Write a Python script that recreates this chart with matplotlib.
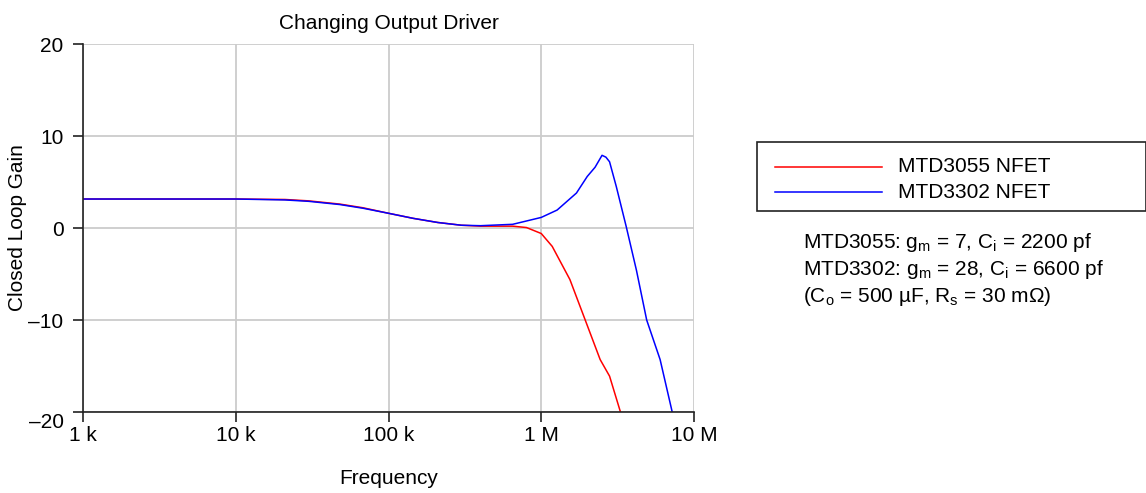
import matplotlib
matplotlib.use("Agg")
import matplotlib.pyplot as plt
from matplotlib.patches import Rectangle
from matplotlib.lines import Line2D
from matplotlib.transforms import ScaledTranslation

plt.rcParams["font.family"] = ["Liberation Sans", "DejaVu Sans"]
plt.rcParams["mathtext.fontset"] = "custom"
plt.rcParams["mathtext.rm"] = "Liberation Sans"
plt.rcParams["mathtext.default"] = "regular"

# Closed loop gain (dB) vs frequency (Hz)
freq_3055 = [1e3, 1e4, 2.1e4, 3.0e4, 4.8e4, 6.8e4, 1.0e5, 1.45e5, 2.1e5, 3.0e5,
             4.0e5, 6.5e5, 8.0e5, 1.0e6, 1.18e6, 1.54e6, 1.94e6, 2.43e6, 2.8e6, 3.3e6]
gain_3055 = [3.15, 3.15, 3.1, 2.95, 2.6, 2.2, 1.6, 1.05, 0.6, 0.3,
             0.2, 0.2, 0.05, -0.6, -2.0, -5.6, -10.0, -14.3, -16.1, -20.0]

freq_3302 = [1e3, 1e4, 2.1e4, 3.0e4, 4.8e4, 6.8e4, 1.0e5, 1.45e5, 2.1e5, 3.0e5,
             4.0e5, 6.5e5, 1.0e6, 1.27e6, 1.7e6, 2.0e6, 2.25e6, 2.5e6, 2.65e6, 2.8e6,
             3.1e6, 3.6e6, 4.2e6, 4.9e6, 6.0e6, 7.2e6]
gain_3302 = [3.15, 3.15, 3.05, 2.9, 2.55, 2.15, 1.6, 1.05, 0.6, 0.3,
             0.25, 0.4, 1.15, 1.95, 3.8, 5.6, 6.6, 7.9, 7.7, 7.2,
             4.5, 0.15, -4.6, -10.0, -14.3, -20.0]

series_names = ["MTD3055 NFET", "MTD3302 NFET"]
series_colors = ["#ff0000", "#0000ff"]
x_ticks = [1e3, 1e4, 1e5, 1e6, 1e7]
x_labels = ["1 k", "10 k", "100 k", "1 M", "10 M"]
y_ticks = [-20, -10, 0, 10, 20]
y_labels = ["\u201320", "\u201310", "0", "10", "20"]

FS = 15
W, H = 1146, 493
fig = plt.figure(figsize=(W / 100, H / 100), dpi=100)
ax = fig.add_axes([83 / W, 1 - 412 / H, (694 - 83) / W, (412 - 44) / H])

ax.plot(freq_3055, gain_3055, color=series_colors[0], lw=1.1)
ax.plot(freq_3302, gain_3302, color=series_colors[1], lw=1.1)

ax.set_xscale("log")
ax.set_xlim(1e3, 1e7)
ax.set_ylim(-20, 20)
ax.set_xticks(x_ticks)
ax.set_xticklabels(x_labels)
ax.xaxis.set_minor_locator(matplotlib.ticker.NullLocator())
ax.set_yticks(y_ticks)
ax.set_yticklabels(y_labels)
ax.grid(True, color="#cccccc", lw=1.3)
ax.set_axisbelow(True)
for s in ["top", "right"]:
    ax.spines[s].set_visible(False)
for s in ["left", "bottom"]:
    ax.spines[s].set_color("#222222")
    ax.spines[s].set_linewidth(1.2)
ax.tick_params(direction="out", length=7, width=1.2, color="#222222",
               labelsize=FS)
ax.tick_params(axis="y", pad=7)
ax.tick_params(axis="x", pad=3)

# the -20 label sits a bit below its tick in the original
lab = ax.get_yticklabels()[0]
lab.set_transform(lab.get_transform() + ScaledTranslation(0, -9 / 100, fig.dpi_scale_trans))

ax.set_title("Changing Output Driver", fontsize=FS, pad=11)
ax.set_xlabel("Frequency", fontsize=FS, labelpad=17)
ax.set_ylabel("Closed Loop Gain", fontsize=FS, labelpad=1)

# legend box stretching to the figure edge
fig.patches.append(Rectangle((757 / W, 1 - 211 / H), (W - 757) / W, 69 / H,
                             transform=fig.transFigure, fill=False,
                             edgecolor="#222222", lw=1.2))
for i, (name, c) in enumerate(zip(series_names, series_colors)):
    yy = 1 - (167 + i * 25) / H
    fig.add_artist(Line2D([775 / W, 882 / W], [yy, yy], color=c, lw=1.1,
                          transform=fig.transFigure))
    fig.text(898 / W, yy, name, fontsize=FS, va="center")

notes = ["MTD3055: g$_m$ = 7, C$_i$ = 2200 pf",
         "MTD3302: g$_m$ = 28, C$_i$ = 6600 pf",
         "(C$_o$ = 500 \u00b5F, R$_s$ = 30 m\u03a9)"]
for i, t in enumerate(notes):
    fig.text(803 / W, 1 - (242 + i * 27.5) / H, t, fontsize=FS, va="center")

fig.savefig("out.png", dpi=100)
